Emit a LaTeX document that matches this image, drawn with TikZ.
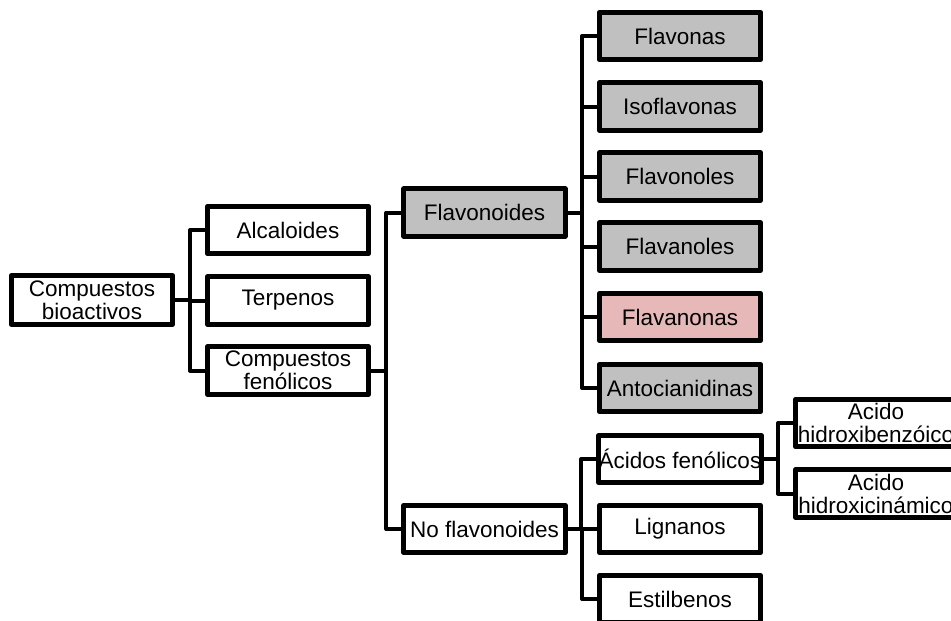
\documentclass[tikz,border=0pt]{standalone}
\usepackage{fontspec}
\setmainfont{Liberation Sans}
\definecolor{boxgray}{HTML}{C0C0C0}
\definecolor{boxpink}{HTML}{E6B9B8}
\tikzset{
  box/.style={draw=black, line width=4.6pt, line join=round, fill=white,
    minimum width=161.5pt, minimum height=47.5pt, inner sep=0pt, align=center,
    font=\fontsize{22.5}{23}\selectfont},
  greybox/.style={box, fill=boxgray},
  pinkbox/.style={box, fill=boxpink},
  link/.style={line width=4pt, line join=round}
}
\begin{document}
\begin{tikzpicture}[x=1pt, y=-1pt]
\useasboundingbox (0,0) rectangle (951,621);
\clip (0,0) rectangle (951,621);
% nodes
\node[box, minimum height=49pt] (root) at (92,300) {Compuestos\\bioactivos};
\node[box] (alc) at (288,230) {Alcaloides};
\node[box] (ter) at (288,300.5) {Terpenos};
\node[box] (cf) at (288,370.5) {Compuestos\\fenólicos};
\node[greybox] (flv) at (484.5,212.5) {Flavonoides};
\node[box] (nof) at (484.5,529) {No flavonoides};
\node[greybox] (f1) at (680,36) {Flavonas};
\node[greybox] (f2) at (680,106.5) {Isoflavonas};
\node[greybox] (f3) at (680,176.5) {Flavonoles};
\node[greybox] (f4) at (680,246.5) {Flavanoles};
\node[pinkbox] (f5) at (680,317) {Flavanonas};
\node[greybox] (f6) at (680,388) {Antocianidinas};
\node[box] (n1) at (680,459) {Ácidos fenólicos};
\node[box] (n2) at (680,529) {Lignanos};
\node[box] (n3) at (680,599) {Estilbenos};
\node[box] (a1) at (876,423) {Acido\\hidroxibenzóico};
\node[box] (a2) at (876,493.5) {Acido\\hidroxicinámico};
% connectors
\foreach \c in {alc,ter,cf}
  \draw[link] (root.east) -| ([xshift=-15pt]\c.west) -- (\c.west);
\foreach \c in {flv,nof}
  \draw[link] (cf.east) -| ([xshift=-15pt]\c.west) -- (\c.west);
\foreach \c in {f1,f2,f3,f4,f5,f6}
  \draw[link] (flv.east) -| ([xshift=-15pt]\c.west) -- (\c.west);
\foreach \c in {n1,n2,n3}
  \draw[link] (nof.east) -| ([xshift=-15pt]\c.west) -- (\c.west);
\foreach \c in {a1,a2}
  \draw[link] (n1.east) -| ([xshift=-15pt]\c.west) -- (\c.west);
\end{tikzpicture}
\end{document}
